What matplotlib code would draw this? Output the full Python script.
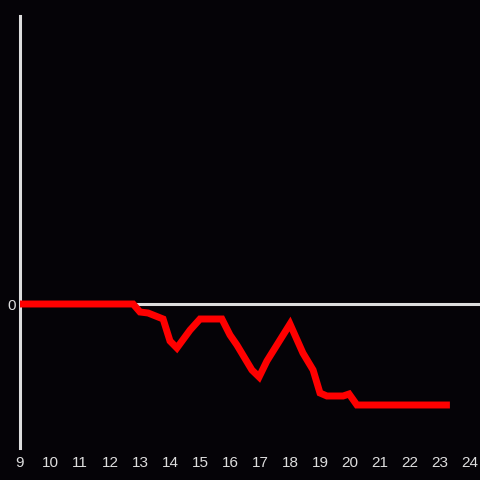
import matplotlib
matplotlib.use("Agg")
import matplotlib.pyplot as plt

hours = [9, 12.77, 13.0, 13.27, 13.77, 14.0, 14.23, 14.67, 15.0, 15.73, 16.0, 16.23,
         16.73, 16.97, 17.23, 18.0, 18.43, 18.77, 19.0, 19.23, 19.77, 19.97, 20.23, 23.33]
values = [0, 0, -0.8, -0.9, -1.5, -3.7, -4.4, -2.6, -1.5, -1.5, -3.1, -4.1,
          -6.6, -7.3, -5.7, -2.0, -4.9, -6.6, -8.9, -9.2, -9.2, -9.0, -10.1, -10.1]
xticks = list(range(9, 25))
yticks = [0]

bg = "#050307"
fg = "#dddddd"

fig = plt.figure(figsize=(4.8, 4.8), dpi=100, facecolor=bg)
ax = fig.add_axes([20/480, 32/480, 460/480, 432/480])
ax.set_facecolor(bg)
ax.set_xlim(9, 9 + 460/30)
ax.set_ylim(-14.4, 28.8)

ax.axhline(0, color=fg, lw=2.2, zorder=1)
ax.plot(hours, values, color="#ff0000", lw=5, solid_joinstyle="miter",
        solid_capstyle="butt", zorder=3)

for s in ["top", "right", "bottom"]:
    ax.spines[s].set_visible(False)
ax.spines["left"].set_color(fg)
ax.spines["left"].set_linewidth(2.2)

ax.set_xticks(xticks)
ax.set_xticklabels([str(t) for t in xticks])
ax.set_yticks(yticks)
ax.set_yticklabels(["0"])
ax.tick_params(axis="both", length=0, colors=fg, labelsize=11)
ax.tick_params(axis="x", pad=6)
ax.tick_params(axis="y", pad=3)
for lbl in ax.get_xticklabels() + ax.get_yticklabels():
    lbl.set_fontfamily("Liberation Sans")

fig.savefig("out.png", dpi=100, facecolor=bg)
